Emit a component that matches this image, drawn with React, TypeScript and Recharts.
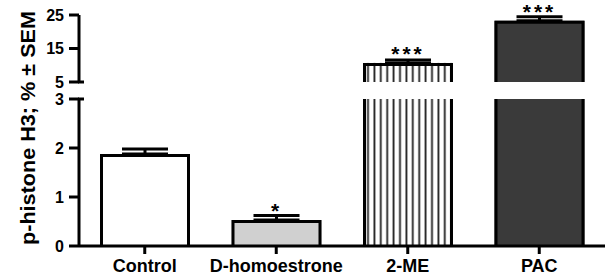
import { Bar, BarChart, Cell, ErrorBar, LabelList, XAxis, YAxis } from "recharts"

// p-histone H3 (% ± SEM) per treatment
const categories = ["Control", "D-homoestrone", "2-ME", "PAC"]
const means = [1.88, 0.53, 10.7, 23.3]
const sems = [0.1, 0.09, 0.9, 1.2]
const stars = ["", "*", "***", "***"]

// broken y axis: two segments
const lowerTicks = [0, 1, 2, 3]
const upperTicks = [5, 15, 25]

const W = 605
const H = 278
const AXIS_W = 79
const TICK_SIZE = 10
const TICK_MARGIN = 5
const FONT = "'Liberation Sans', Arial, Helvetica, sans-serif"
const FILLS = ["#ffffff", "#d0d0d0", "url(#vhatch)", "#3a3a3a"]

const lowTop = lowerTicks[lowerTicks.length - 1]
const highBottom = upperTicks[0]

const rows = categories.map((name, i) => {
  const inLow = means[i] <= lowTop
  const inHigh = means[i] > highBottom
  return {
    name,
    lower: means[i],
    lowerErr: inLow ? [0, sems[i]] : null,
    lowerStar: inLow ? stars[i] : "",
    upper: inHigh ? means[i] : null,
    upperErr: inHigh ? [0, sems[i]] : null,
    upperStar: inHigh ? stars[i] : "",
  }
})

// bar with left / top / right outline only (base edge sits on the axis or the break)
const OpenBar = (p: any) => {
  const { x, y, width, height, fill } = p
  if (x == null || !height || height <= 0) return null
  return (
    <g>
      <rect x={x} y={y} width={width} height={height} fill={fill} />
      <path
        d={`M${x + 1.5},${y + height} V${y + 1.5} H${x + width - 1.5} V${y + height}`}
        fill="none" stroke="#000" strokeWidth={3}
      />
    </g>
  )
}

const YTick = (p: any) => {
  const { x, y, payload, breakAt } = p
  const ax = x + TICK_SIZE + TICK_MARGIN
  return (
    <g>
      {payload.value === breakAt && (
        <line x1={ax - 1} x2={ax + 5} y1={y} y2={y} stroke="#000" strokeWidth={3} />
      )}
      <text
        x={x} y={y} dy="0.36em" textAnchor="end"
        fontFamily={FONT} fontWeight="bold" fontSize={16} fill="#000"
      >
        {payload.value}
      </text>
    </g>
  )
}

const starStyle = { fontFamily: FONT, fontWeight: "bold", fontSize: 21, fill: "#000", letterSpacing: 3 } as any
const axisStroke = { stroke: "#000", strokeWidth: 3 }

function Defs() {
  return (
    <defs>
      <pattern id="vhatch" width={6.4} height={10} patternUnits="userSpaceOnUse">
        <rect width={6.4} height={10} fill="#fff" />
        <line x1={3.2} x2={3.2} y1={0} y2={10} stroke="#1e1e1e" strokeWidth={1.8} />
      </pattern>
    </defs>
  )
}

export default function App() {
  return (
    <div style={{ position: "absolute", left: 0, top: 0, width: W, height: H, background: "#fff" }}>
      {/* lower segment 0–3 with category axis */}
      <div style={{ position: "absolute", left: 0, top: 0 }}>
        <BarChart width={W} height={H} data={rows} margin={{ top: 99, right: 0, bottom: 0, left: 0 }} barSize={90}>
          <Defs />
          <XAxis
            dataKey="name" height={32}
            axisLine={axisStroke} tickLine={axisStroke} tickSize={8} tickMargin={5}
            tick={{ fill: "#000", fontSize: 18, fontWeight: "bold", fontFamily: FONT }}
            interval={0}
          />
          <YAxis
            width={AXIS_W} domain={[lowerTicks[0], lowTop]} ticks={lowerTicks} allowDataOverflow
            axisLine={axisStroke} tickLine={axisStroke} tickSize={TICK_SIZE} tickMargin={TICK_MARGIN}
            tick={(p: any) => <YTick {...p} breakAt={lowTop} />}
          />
          <Bar dataKey="lower" shape={OpenBar} isAnimationActive={false}>
            {rows.map((r, i) => <Cell key={r.name} fill={FILLS[i]} />)}
            <ErrorBar dataKey="lowerErr" width={23} stroke="#000" strokeWidth={3} direction="y" />
            <LabelList dataKey="lowerStar" position="top" offset={2} style={starStyle} />
          </Bar>
        </BarChart>
      </div>

      {/* upper segment 5–25 */}
      <div style={{ position: "absolute", left: 0, top: 0 }}>
        <BarChart width={W} height={H} data={rows} margin={{ top: 15, right: 0, bottom: H - 82, left: 0 }} barSize={90}>
          <Defs />
          <XAxis dataKey="name" hide />
          <YAxis
            width={AXIS_W} domain={[highBottom, upperTicks[upperTicks.length - 1]]} ticks={upperTicks} allowDataOverflow
            axisLine={axisStroke} tickLine={axisStroke} tickSize={TICK_SIZE} tickMargin={TICK_MARGIN}
            tick={(p: any) => <YTick {...p} breakAt={highBottom} />}
          />
          <Bar dataKey="upper" shape={OpenBar} isAnimationActive={false}>
            {rows.map((r, i) => <Cell key={r.name} fill={FILLS[i]} />)}
            <ErrorBar dataKey="upperErr" width={23} stroke="#000" strokeWidth={3} direction="y" />
            <LabelList dataKey="upperStar" position="top" offset={2} style={starStyle} />
          </Bar>
        </BarChart>
      </div>

      {/* y axis title spanning both segments */}
      <svg width={50} height={H} style={{ position: "absolute", left: 0, top: 0 }}>
        <text
          transform="translate(27,128) rotate(-90)" textAnchor="middle" dominantBaseline="central"
          fontFamily={FONT} fontWeight="bold" fontSize={21} fill="#000"
          textLength={234} lengthAdjust="spacingAndGlyphs"
        >
          p-histone H3; % ± SEM
        </text>
      </svg>
    </div>
  )
}
